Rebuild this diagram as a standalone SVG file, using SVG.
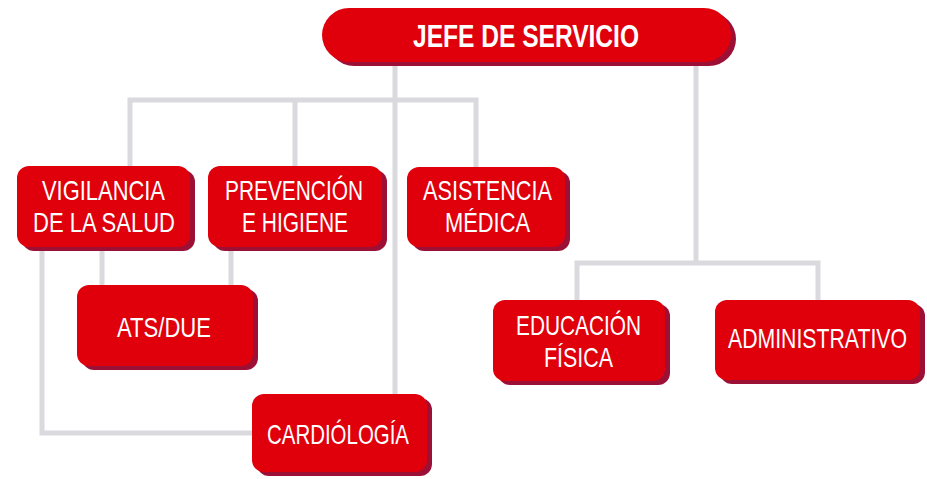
<svg xmlns="http://www.w3.org/2000/svg" width="927" height="479" viewBox="0 0 927 479">
<style>
.bg{fill:#ffffff}
.sh{fill:#9c1036}
.bx{fill:#df000c}
.ln{fill:none;stroke:#d9d9de;stroke-width:5;stroke-linejoin:miter}
.t{font-family:"Liberation Sans Narrow","Liberation Sans",Arial,sans-serif;font-size:28px;fill:#ffffff;text-anchor:middle}
.tb{font-family:"Liberation Sans Narrow","Liberation Sans",Arial,sans-serif;font-size:31px;font-weight:bold;fill:#ffffff;text-anchor:middle}
</style>
<rect class="bg" x="0" y="0" width="927" height="479"/>
<g id="connectors">
<path class="ln" d="M395 60 V396"/>
<path class="ln" d="M130 168 V100 H476 V169"/>
<path class="ln" d="M295 100 V168"/>
<path class="ln" d="M696 60 V263"/>
<path class="ln" d="M577 302 V263 H818 V302"/>
<path class="ln" d="M102 245 V287"/>
<path class="ln" d="M231 245 V287"/>
<path class="ln" d="M42 245 V433 H254"/>
</g>
<g id="jefe">
<rect class="sh" x="327" y="12" width="409" height="54" rx="27"/>
<rect class="bx" x="322" y="8" width="409" height="54" rx="27"/>
<text class="tb" x="526" y="47" textLength="226" lengthAdjust="spacingAndGlyphs">JEFE DE SERVICIO</text>
</g>
<g id="vigilancia">
<rect class="sh" x="22" y="170" width="173" height="81" rx="12"/>
<rect class="bx" x="17" y="166" width="173" height="81" rx="12"/>
<text class="t" x="103.5" y="200" textLength="123" lengthAdjust="spacingAndGlyphs">VIGILANCIA</text>
<text class="t" x="104" y="232" textLength="142" lengthAdjust="spacingAndGlyphs">DE LA SALUD</text>
</g>
<g id="prevencion">
<rect class="sh" x="213" y="170" width="174" height="81" rx="12"/>
<rect class="bx" x="208" y="166" width="174" height="81" rx="12"/>
<text class="t" x="294" y="200" textLength="138" lengthAdjust="spacingAndGlyphs">PREVENCIÓN</text>
<text class="t" x="295" y="232" textLength="106" lengthAdjust="spacingAndGlyphs">E HIGIENE</text>
</g>
<g id="asistencia">
<rect class="sh" x="412" y="171" width="158" height="80" rx="12"/>
<rect class="bx" x="407" y="167" width="158" height="80" rx="12"/>
<text class="t" x="487.5" y="200" textLength="129" lengthAdjust="spacingAndGlyphs">ASISTENCIA</text>
<text class="t" x="487.5" y="232" textLength="85" lengthAdjust="spacingAndGlyphs">MÉDICA</text>
</g>
<g id="ats">
<rect class="sh" x="82" y="289" width="176" height="81" rx="12"/>
<rect class="bx" x="77" y="285" width="176" height="81" rx="12"/>
<text class="t" x="164" y="337" textLength="94" lengthAdjust="spacingAndGlyphs">ATS/DUE</text>
</g>
<g id="cardiologia">
<rect class="sh" x="257" y="398" width="175" height="78" rx="12"/>
<rect class="bx" x="252" y="394" width="175" height="78" rx="12"/>
<text class="t" x="338" y="444" textLength="142" lengthAdjust="spacingAndGlyphs">CARDIÓLOGÍA</text>
</g>
<g id="educacion">
<rect class="sh" x="498" y="304" width="172" height="81" rx="12"/>
<rect class="bx" x="493" y="300" width="172" height="81" rx="12"/>
<text class="t" x="578.5" y="335" textLength="125" lengthAdjust="spacingAndGlyphs">EDUCACIÓN</text>
<text class="t" x="578.5" y="367" textLength="69" lengthAdjust="spacingAndGlyphs">FÍSICA</text>
</g>
<g id="administrativo">
<rect class="sh" x="720" y="304" width="205" height="80" rx="12"/>
<rect class="bx" x="715" y="300" width="205" height="80" rx="12"/>
<text class="t" x="817.5" y="348" textLength="179" lengthAdjust="spacingAndGlyphs">ADMINISTRATIVO</text>
</g>
</svg>
